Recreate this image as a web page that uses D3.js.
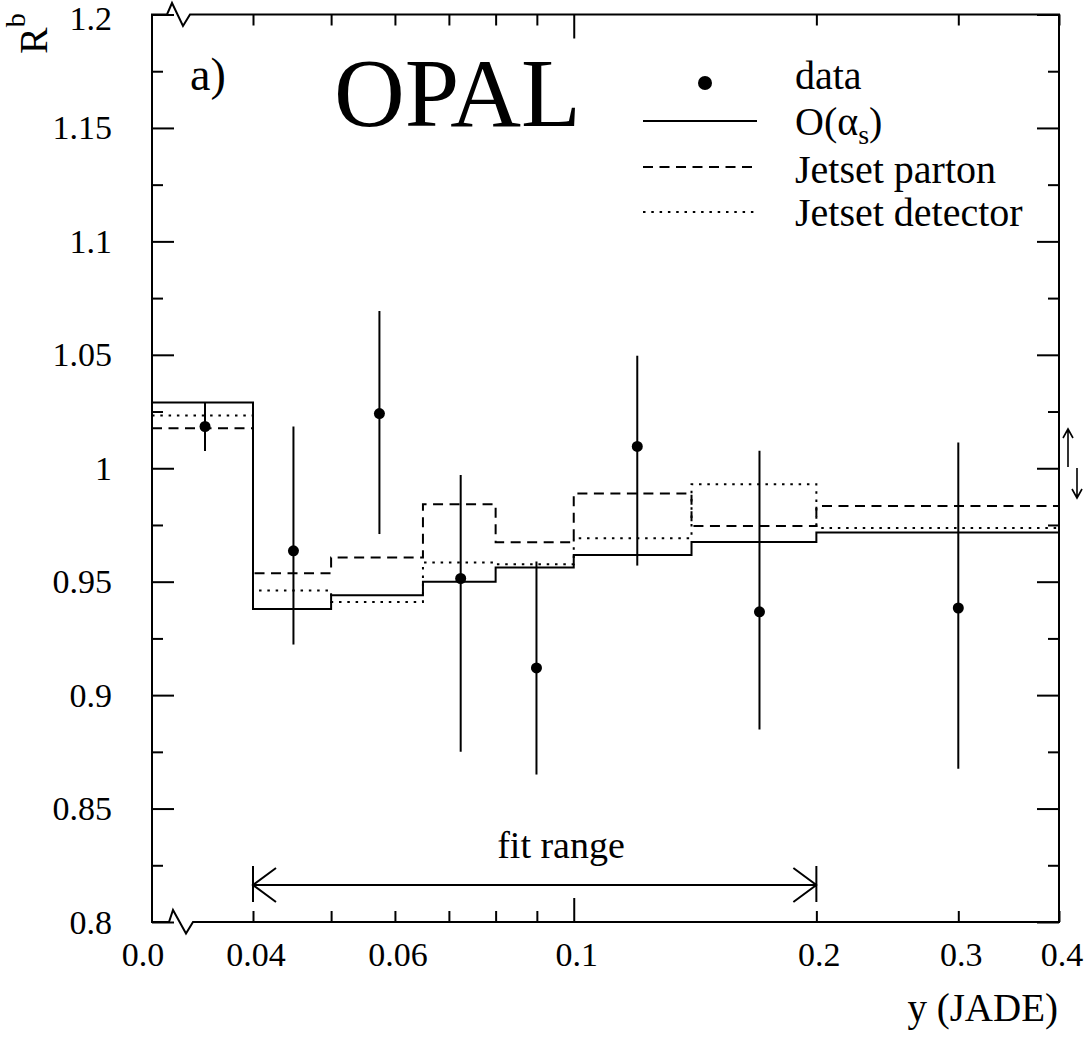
<!DOCTYPE html>
<html>
<head>
<meta charset="utf-8">
<script src="https://cdn.jsdelivr.net/npm/d3@7"></script>
<style>
  html, body { margin: 0; padding: 0; background: #fff; }
  svg { display: block; }
  text { font-family: "Liberation Serif", "Times New Roman", serif; fill: #000; }
</style>
</head>
<body>
<svg id="chart" width="1092" height="1040"></svg>
<script>
// ---------------- data ----------------
const binEdges       = [0, 0.04, 0.05, 0.065, 0.08, 0.1, 0.14, 0.2, 0.4];
const oAlphaS        = [1.0290, 0.9380, 0.9440, 0.9500, 0.9563, 0.9618, 0.9675, 0.9717];
const jetsetParton   = [1.0176, 0.9537, 0.9607, 0.9841, 0.9674, 0.9889, 0.9746, 0.9834];
const jetsetDetector = [1.0233, 0.9461, 0.9411, 0.9585, 0.9577, 0.9692, 0.9930, 0.9737];

const dataX    = [0.021, 0.0449, 0.0574, 0.0724, 0.0899, 0.1199, 0.170, 0.300];
const dataY    = [1.0184, 0.9636, 1.0241, 0.9514, 0.9120, 1.0096, 0.9367, 0.9384];
const dataLow  = [1.0076, 0.9223, 0.9710, 0.8750, 0.8650, 0.9571, 0.8848, 0.8675];
const dataHigh = [1.0291, 1.0184, 1.0693, 0.9970, 0.9589, 1.0496, 1.0077, 1.0113];

const xTickLabelValues = [0, 0.04, 0.06, 0.1, 0.2, 0.3, 0.4];
const xTickLabels      = ["0.0", "0.04", "0.06", "0.1", "0.2", "0.3", "0.4"];
const xMinorTicks      = [0.04, 0.05, 0.06, 0.07, 0.08, 0.09, 0.2, 0.3, 0.4];
const xMajorTicks      = [0.1];

const yMajorTicks = [0.8, 0.85, 0.9, 0.95, 1.0, 1.05, 1.1, 1.15, 1.2];
const yTickLabels = ["0.8", "0.85", "0.9", "0.95", "1", "1.05", "1.1", "1.15", "1.2"];
const yMinorTicks = [0.825, 0.875, 0.925, 0.975, 1.025, 1.075, 1.125, 1.175];

const legendLabels = ["data", "O(α", "Jetset parton", "Jetset detector"];
const fitRange = [0.04, 0.2];

// ---------------- layout ----------------
const L = 152, R = 1059, T = 14.5, B = 922;
const svg = d3.select("#chart");

const xLin = d3.scaleLinear().domain([0, 0.04]).range([L, 253]);
const xLog = d3.scaleLog().domain([0.04, 0.4]).range([253, R]);
const x = v => (v < 0.04 ? xLin(v) : xLog(v));
const y = d3.scaleLinear().domain([0.8, 1.2]).range([B, T]);

// ---------------- frame with axis breaks ----------------
const fr = d3.path();
fr.moveTo(L, T);
fr.lineTo(L + 15, T); fr.lineTo(L + 20, T - 11.5); fr.lineTo(L + 31, T + 11.5); fr.lineTo(L + 38, T);
fr.lineTo(R, T);
fr.lineTo(R, B);
fr.lineTo(L + 41, B); fr.lineTo(L + 34, B + 11.5); fr.lineTo(L + 21, B - 12); fr.lineTo(L + 17, B);
fr.lineTo(L, B);
fr.closePath();
svg.append("path").attr("d", fr.toString()).attr("fill", "none")
  .attr("stroke", "#000").attr("stroke-width", 2).attr("stroke-linejoin", "miter");

// ---------------- ticks (via d3 axes) ----------------
function styleAxis(g) {
  g.select(".domain").remove();
  g.selectAll("line").attr("stroke", "#000").attr("stroke-width", 2);
  g.selectAll("text").remove();
}
svg.append("g").attr("transform", `translate(0,${B})`)
  .call(d3.axisTop(xLog).tickValues(xMinorTicks).tickSize(11)).call(styleAxis);
svg.append("g").attr("transform", `translate(0,${B})`)
  .call(d3.axisTop(xLog).tickValues(xMajorTicks).tickSize(24)).call(styleAxis);
svg.append("g").attr("transform", `translate(0,${T})`)
  .call(d3.axisBottom(xLog).tickValues(xMinorTicks).tickSize(11)).call(styleAxis);
svg.append("g").attr("transform", `translate(0,${T})`)
  .call(d3.axisBottom(xLog).tickValues(xMajorTicks).tickSize(24)).call(styleAxis);

svg.append("g").attr("transform", `translate(${L},0)`)
  .call(d3.axisRight(y).tickValues(yMajorTicks).tickSize(22)).call(styleAxis);
svg.append("g").attr("transform", `translate(${L},0)`)
  .call(d3.axisRight(y).tickValues(yMinorTicks).tickSize(11)).call(styleAxis);
svg.append("g").attr("transform", `translate(${R},0)`)
  .call(d3.axisLeft(y).tickValues(yMajorTicks).tickSize(22)).call(styleAxis);
svg.append("g").attr("transform", `translate(${R},0)`)
  .call(d3.axisLeft(y).tickValues(yMinorTicks).tickSize(11)).call(styleAxis);

// tick labels
svg.append("g").selectAll("text").data(xTickLabelValues).join("text")
  .attr("x", (d) => (d === 0 ? x(d) - 9 : x(d) + 3)).attr("y", 966)
  .attr("text-anchor", "middle").attr("font-size", 34)
  .text((d, i) => xTickLabels[i]);
svg.append("g").selectAll("text").data(yMajorTicks).join("text")
  .attr("x", 112).attr("y", d => y(d) + (d === 1.2 ? 4 : 0)).attr("dy", "0.34em")
  .attr("text-anchor", "end").attr("font-size", 34)
  .text((d, i) => yTickLabels[i]);

// axis titles
svg.append("text").attr("x", 1058).attr("y", 1021).attr("text-anchor", "end")
  .attr("font-size", 39).text("y (JADE)");
const yt = svg.append("text").attr("transform", "translate(47,54) rotate(-90)")
  .attr("font-size", 40);
yt.append("tspan").text("R");
yt.append("tspan").attr("font-size", 28).attr("dy", -22).text("b");

// ---------------- histograms ----------------
const stepLine = d3.line().x(d => x(d[0])).y(d => y(d[1])).curve(d3.curveStepAfter);
function histPts(vals) {
  const pts = binEdges.slice(0, -1).map((e, i) => [e, vals[i]]);
  pts.push([binEdges[binEdges.length - 1], vals[vals.length - 1]]);
  return pts;
}
const series = [
  { vals: jetsetDetector, dash: "2.5,5.8" },
  { vals: jetsetParton,   dash: "10,6.5" },
  { vals: oAlphaS,        dash: null }
];
series.forEach(s => {
  svg.append("path").attr("d", stepLine(histPts(s.vals)))
    .attr("fill", "none").attr("stroke", "#000").attr("stroke-width", 2)
    .attr("stroke-dasharray", s.dash);
});

// ---------------- data points ----------------
const pg = svg.append("g");
pg.selectAll("line").data(dataX).join("line")
  .attr("x1", d => x(d)).attr("x2", d => x(d))
  .attr("y1", (d, i) => y(dataHigh[i])).attr("y2", (d, i) => y(dataLow[i]))
  .attr("stroke", "#000").attr("stroke-width", 2);
pg.selectAll("circle").data(dataX).join("circle")
  .attr("cx", d => x(d)).attr("cy", (d, i) => y(dataY[i])).attr("r", 5.5)
  .attr("fill", "#000");

// ---------------- fit range arrow ----------------
const fy = 885;
const fx0 = x(fitRange[0]), fx1 = x(fitRange[1]);
const fa = d3.path();
fa.moveTo(fx0, fy); fa.lineTo(fx1, fy);
fa.moveTo(fx0, fy - 19); fa.lineTo(fx0, fy + 17);
fa.moveTo(fx1, fy - 19); fa.lineTo(fx1, fy + 17);
fa.moveTo(fx0 + 23, fy - 17); fa.lineTo(fx0, fy); fa.lineTo(fx0 + 23, fy + 17);
fa.moveTo(fx1 - 23, fy - 17); fa.lineTo(fx1, fy); fa.lineTo(fx1 - 23, fy + 17);
svg.append("path").attr("d", fa.toString()).attr("fill", "none")
  .attr("stroke", "#000").attr("stroke-width", 2);
svg.append("text").attr("x", 561).attr("y", 858).attr("text-anchor", "middle")
  .attr("font-size", 38).text("fit range");

// ---------------- right side arrows ----------------
const ra = d3.path();
ra.moveTo(1068, 467); ra.lineTo(1068, 429);
ra.moveTo(1063, 438); ra.lineTo(1068, 429); ra.lineTo(1073, 438);
ra.moveTo(1077, 468); ra.lineTo(1077, 498);
ra.moveTo(1072, 489); ra.lineTo(1077, 498); ra.lineTo(1082, 489);
svg.append("path").attr("d", ra.toString()).attr("fill", "none")
  .attr("stroke", "#000").attr("stroke-width", 1.6);

// ---------------- labels ----------------
svg.append("text").attr("x", 334).attr("y", 126).attr("font-size", 98).text("OPAL");
svg.append("text").attr("x", 190).attr("y", 90).attr("font-size", 46).text("a)");

// ---------------- legend ----------------
const lg = svg.append("g");
const legY = [83, 121, 167, 212];
const legBase = [89, 135, 183, 226];
lg.append("circle").attr("cx", 705).attr("cy", legY[0]).attr("r", 7).attr("fill", "#000");
[null, "10,6.5", "2.5,5.8"].forEach((dash, i) => {
  lg.append("line").attr("x1", 643).attr("x2", 757)
    .attr("y1", legY[i + 1]).attr("y2", legY[i + 1])
    .attr("stroke", "#000").attr("stroke-width", 2).attr("stroke-dasharray", dash);
});
legendLabels.forEach((t, i) => {
  const tx = lg.append("text").attr("x", 795).attr("y", legBase[i]).attr("font-size", 40);
  tx.append("tspan").text(t);
  if (i === 1) {
    tx.append("tspan").attr("font-size", 28).attr("dy", 9).text("s");
    tx.append("tspan").attr("dy", -9).text(")");
  }
});
</script>
</body>
</html>
